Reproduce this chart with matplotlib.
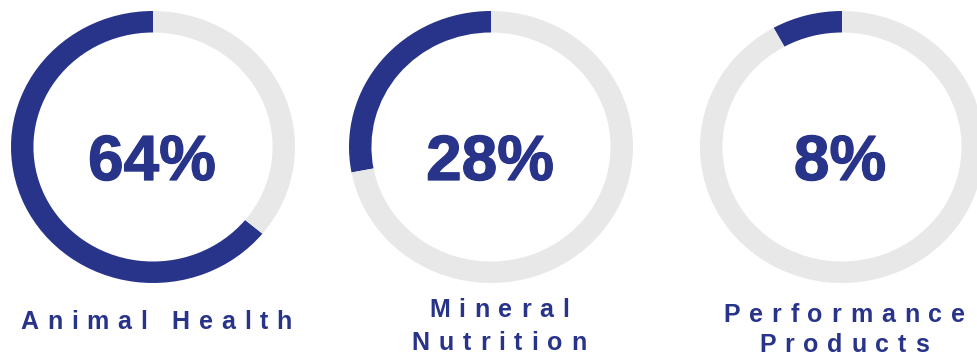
import matplotlib
matplotlib.use("Agg")
import matplotlib.pyplot as plt
import matplotlib.patheffects as pe
from matplotlib.font_manager import FontProperties

# Segment shares
segments = ["Animal Health", "Mineral Nutrition", "Performance Products"]
shares = [64, 28, 8]
label_lines = [["Animal Health"], ["Mineral", "Nutrition"], ["Performance", "Products"]]

BLUE = "#28338A"
GREY = "#E8E8E8"

W, H = 977, 358
fig = plt.figure(figsize=(W / 100, H / 100), dpi=100)
fig.patch.set_facecolor("white")

# ring geometry in pixels
centers_x = [153, 491, 842]
center_y = 147
rx, ry = 142, 136
ring_w = 0.158

for cx, val in zip(centers_x, shares):
    ax = fig.add_axes([(cx - rx) / W, 1 - (center_y + ry) / H, 2 * rx / W, 2 * ry / H])
    ax.pie([val, 100 - val], colors=[BLUE, GREY], startangle=90, counterclock=True,
           radius=1.0, wedgeprops=dict(width=ring_w, linewidth=0))
    ax.set_aspect("auto")
    ax.set_xlim(-1, 1)
    ax.set_ylim(-1, 1)
    ax.axis("off")

# overlay for text, in pixel coordinates
tx = fig.add_axes([0, 0, 1, 1])
tx.set_xlim(0, W)
tx.set_ylim(H, 0)
tx.axis("off")
tx.patch.set_alpha(0)

pct_font = FontProperties(family="Liberation Sans", weight="bold", size=46)
heavy = [pe.withStroke(linewidth=0.9, foreground=BLUE)]
pct_x = [152, 490, 840]
for x, val in zip(pct_x, shares):
    tx.text(x, 180, f"{val}%", fontproperties=pct_font, color=BLUE,
            ha="center", va="baseline", path_effects=heavy)

# letter-spaced captions
lab_font = FontProperties(family="Liberation Sans", weight="bold", size=18)
renderer = fig.canvas.get_renderer()


def char_advance(ch):
    if ch == " ":
        w2, _, _ = renderer.get_text_width_height_descent("a a", lab_font, ismath=False)
        w1, _, _ = renderer.get_text_width_height_descent("aa", lab_font, ismath=False)
        return w2 - w1
    w, _, _ = renderer.get_text_width_height_descent(ch, lab_font, ismath=False)
    return w


tracking = 8.8


def tracked_text(cx, baseline, s):
    adv = [char_advance(c) for c in s]
    total = sum(adv) + tracking * (len(s) - 1)
    x = cx - total / 2
    for c, a in zip(s, adv):
        if c != " ":
            tx.text(x, baseline, c, fontproperties=lab_font, color=BLUE,
                    ha="left", va="baseline")
        x += a + tracking


label_cx = [156, 499, 844]
label_baselines = [[329], [317, 350], [322, 352]]
for cx, lines, bls in zip(label_cx, label_lines, label_baselines):
    for line, bl in zip(lines, bls):
        tracked_text(cx, bl, line)

fig.savefig("out.png", dpi=100, facecolor="white")
